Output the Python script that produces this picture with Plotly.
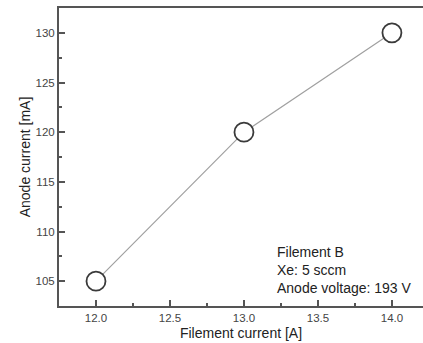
import plotly.graph_objects as go

filament_current = [12.0, 13.0, 14.0]
anode_current = [105, 120, 130]
note_lines = ["Filement B", "Xe: 5 sccm", "Anode voltage: 193 V"]

fig = go.Figure()
fig.add_trace(go.Scatter(
    x=filament_current, y=anode_current, mode="lines+markers",
    line=dict(color="#a0a0a0", width=1.2),
    marker=dict(size=19, color="white", line=dict(color="#3a3a3a", width=1.8)),
    showlegend=False, cliponaxis=False,
))

axis_common = dict(
    showgrid=False, zeroline=False, showline=True, linecolor="#555555", linewidth=2,
    ticks="inside", ticklen=6, tickwidth=1.5, tickcolor="#555555",
    tickfont=dict(family="Liberation Sans, Arial", size=11.5, color="#444444"),
    title_font=dict(family="Liberation Sans, Arial", size=14, color="#222222"),
)

fig.update_xaxes(
    **axis_common, range=[11.75, 14.21], tickvals=[12.0, 12.5, 13.0, 13.5, 14.0],
    ticktext=["12.0", "12.5", "13.0", "13.5", "14.0"], mirror=True,
    minor=dict(ticks="inside", ticklen=3, tickwidth=1.5, tickcolor="#555555", dtick=0.25, tick0=11.75),
    title_text="Filement current [A]", title_standoff=5,
)
fig.update_yaxes(
    **axis_common, range=[102.5, 132.5], tickvals=[105, 110, 115, 120, 125, 130],
    minor=dict(ticks="inside", ticklen=3, tickwidth=1.5, tickcolor="#555555", dtick=2.5, tick0=102.5),
    title_text="Anode current [mA]", title_standoff=2,
)

fig.add_annotation(
    x=0.593, y=0.215, xref="paper", yref="paper", xanchor="left", yanchor="top",
    text="<br>".join(note_lines), showarrow=False, align="left",
    font=dict(family="Liberation Sans, Arial", size=14, color="#222222"),
)

fig.update_layout(
    width=423, height=343, margin=dict(l=59, r=0, t=8, b=37),
    plot_bgcolor="white", paper_bgcolor="white",
)
fig.write_html("out.html")
